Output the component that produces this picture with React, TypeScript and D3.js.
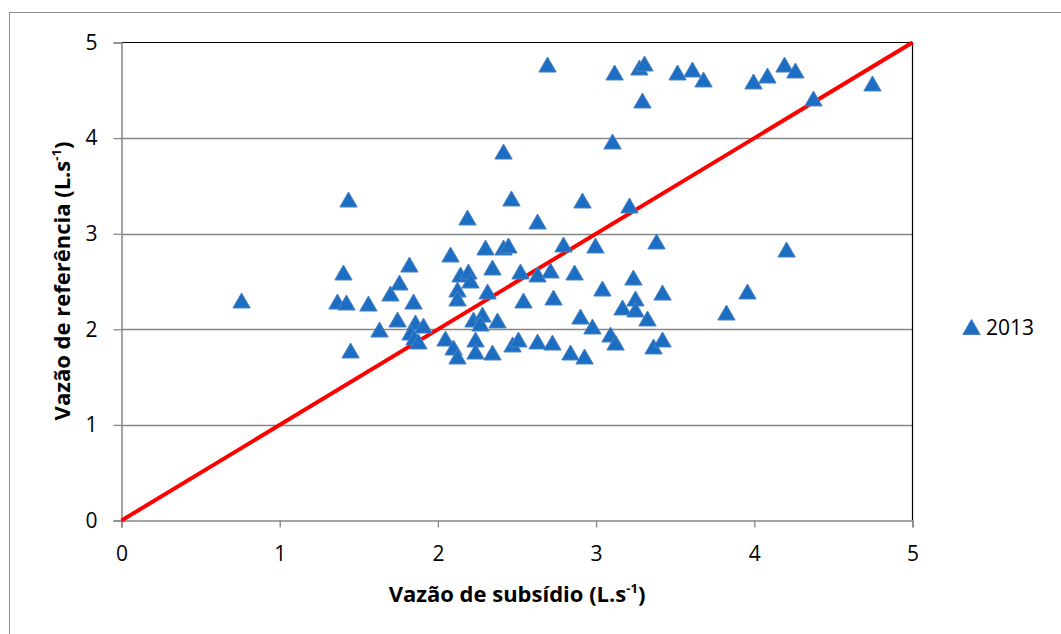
import React, { useEffect, useRef } from "react";
import * as d3 from "d3";

// Vazão de subsídio (x) e vazão de referência (y), L.s-1, série 2013
const subsidio: number[] = [
  0.759, 1.435, 1.403, 1.365, 1.422, 1.448, 1.561, 1.631, 1.7, 1.757,
  1.745, 1.82, 1.846, 1.858, 1.909, 1.827, 1.852, 1.877, 2.048, 2.099,
  2.124, 2.08, 2.143, 2.193, 2.206, 2.124, 2.124, 2.187, 2.301, 2.415,
  2.446, 2.345, 2.314, 2.415, 2.465, 2.522, 2.541, 2.225, 2.282, 2.269,
  2.238, 2.238, 2.345, 2.377, 2.472, 2.509, 2.63, 2.63, 2.712, 2.731,
  2.63, 2.724, 2.794, 2.864, 2.838, 2.927, 2.693, 2.914, 2.996, 2.901,
  2.977, 3.04, 3.091, 3.123, 3.104, 3.117, 3.211, 3.167, 3.236, 3.249,
  3.249, 3.325, 3.363, 3.42, 3.42, 3.382, 3.274, 3.306, 3.293, 3.515,
  3.609, 3.679, 3.824, 3.957, 3.995, 4.083, 4.191, 4.26, 4.204, 4.374,
  4.747,
];
const referencia: number[] = [
  2.291, 3.347, 2.584, 2.28, 2.27, 1.768, 2.259, 1.987, 2.364, 2.479,
  2.092, 2.667, 2.28, 2.061, 2.029, 1.956, 1.904, 1.862, 1.893, 1.799,
  1.705, 2.772, 2.563, 2.594, 2.5, 2.406, 2.312, 3.159, 2.845, 2.845,
  2.866, 2.636, 2.385, 3.849, 3.358, 2.594, 2.291, 2.092, 2.144, 2.05,
  1.883, 1.757, 1.747, 2.082, 1.831, 1.883, 3.117, 2.563, 2.605, 2.322,
  1.862, 1.851, 2.877, 2.584, 1.747, 1.705, 4.759, 3.337, 2.866, 2.123,
  2.019, 2.416, 1.935, 1.851, 3.954, 4.676, 3.285, 2.218, 2.531, 2.312,
  2.197, 2.103, 1.81, 1.883, 2.374, 2.908, 4.728, 4.77, 4.383, 4.676,
  4.707, 4.603, 2.165, 2.385, 4.582, 4.644, 4.759, 4.697, 2.824, 4.404,
  4.561,
];
const xTicks: number[] = [0, 1, 2, 3, 4, 5];
const yTicks: number[] = [0, 1, 2, 3, 4, 5];
const gridValues: number[] = [1, 2, 3, 4];
const reference1to1: [number, number][] = [
  [0, 0],
  [5, 5],
];
const seriesName = "2013";

const W = 1061;
const H = 634;
const FONT = "'Open Sans', 'Noto Sans', sans-serif";

export default function App() {
  const ref = useRef<SVGSVGElement>(null);

  useEffect(() => {
    const svg = d3.select(ref.current);
    svg.selectAll("*").remove();

    const left = 121.5;
    const right = 912.5;
    const top = 42.5;
    const bottom = 520.5;

    const x = d3.scaleLinear().domain([0, 5]).range([left, right]);
    const y = d3.scaleLinear().domain([0, 5]).range([bottom, top]);

    // chart frame
    svg
      .append("rect")
      .attr("x", 9.5)
      .attr("y", 12.5)
      .attr("width", 1100)
      .attr("height", 700)
      .attr("fill", "#fff")
      .attr("stroke", "#8c8c8c")
      .attr("stroke-width", 1);

    // horizontal gridlines
    svg
      .append("g")
      .selectAll("line")
      .data(gridValues)
      .join("line")
      .attr("x1", left)
      .attr("x2", right)
      .attr("y1", (d) => Math.round(y(d)) + 0.5)
      .attr("y2", (d) => Math.round(y(d)) + 0.5)
      .attr("stroke", "#868686")
      .attr("stroke-width", 1.3);

    // plot-area border (top and right)
    svg
      .append("path")
      .attr("d", `M${left},${top}H${right}V${bottom}`)
      .attr("fill", "none")
      .attr("stroke", "#000")
      .attr("stroke-width", 1.2);

    // axes
    const axisColor = "#868686";
    const xAxis = svg
      .append("g")
      .attr("transform", `translate(0,${bottom})`)
      .call(d3.axisBottom(x).tickValues(xTicks).tickSize(7).tickPadding(19).tickFormat(d3.format("d")));
    const yAxis = svg
      .append("g")
      .attr("transform", `translate(${left},0)`)
      .call(d3.axisLeft(y).tickValues(yTicks).tickSize(8).tickPadding(16).tickFormat(d3.format("d")));
    [xAxis, yAxis].forEach((g) => {
      g.select(".domain").attr("stroke", axisColor).attr("stroke-width", 1.5);
      g.selectAll(".tick line").attr("stroke", axisColor).attr("stroke-width", 1.3);
      g.selectAll(".tick text")
        .attr("fill", "#000")
        .attr("font-family", FONT)
        .attr("font-size", 21);
    });

    // 1:1 line
    const line = d3
      .line<[number, number]>()
      .x((d) => x(d[0]))
      .y((d) => y(d[1]));
    svg
      .append("path")
      .datum(reference1to1)
      .attr("d", line)
      .attr("fill", "none")
      .attr("stroke", "#ff0000")
      .attr("stroke-width", 4);

    // markers
    const tri = d3.symbol().type(d3.symbolTriangle).size(130)();
    const pts = subsidio.map((v, i) => [v, referencia[i]] as [number, number]);
    svg
      .append("g")
      .selectAll("path")
      .data(pts)
      .join("path")
      .attr("d", tri)
      .attr("transform", (d) => `translate(${x(d[0])},${y(d[1]) + 1.5})`)
      .attr("fill", "#1b6ec2")
      .attr("stroke", "#4a82c4")
      .attr("stroke-width", 1);

    // legend
    svg
      .append("path")
      .attr("d", tri)
      .attr("transform", `translate(971.5,329.5)`)
      .attr("fill", "#1b6ec2")
      .attr("stroke", "#4a82c4")
      .attr("stroke-width", 1);
    svg
      .append("text")
      .attr("x", 986)
      .attr("y", 335)
      .attr("font-family", FONT)
      .attr("font-size", 21)
      .attr("fill", "#000")
      .text(seriesName);

    // axis titles
    const xt = svg
      .append("text")
      .attr("x", 517)
      .attr("y", 602)
      .attr("text-anchor", "middle")
      .attr("font-family", FONT)
      .attr("font-size", 22)
      .attr("font-weight", "bold")
      .attr("fill", "#000");
    xt.append("tspan").text("Vazão de subsídio (L.s");
    xt.append("tspan").attr("dy", -9).attr("font-size", 13).text("-1");
    xt.append("tspan").attr("dy", 9).text(")");

    const yt = svg
      .append("text")
      .attr("transform", `translate(70,281) rotate(-90)`)
      .attr("text-anchor", "middle")
      .attr("font-family", FONT)
      .attr("font-size", 22)
      .attr("font-weight", "bold")
      .attr("fill", "#000");
    yt.append("tspan").text("Vazão de referência (L.s");
    yt.append("tspan").attr("dy", -9).attr("font-size", 13).text("-1");
    yt.append("tspan").attr("dy", 9).text(")");
  }, []);

  return (
    <svg
      ref={ref}
      width={W}
      height={H}
      style={{ position: "absolute", left: 0, top: 0, display: "block", background: "#fff" }}
    />
  );
}
